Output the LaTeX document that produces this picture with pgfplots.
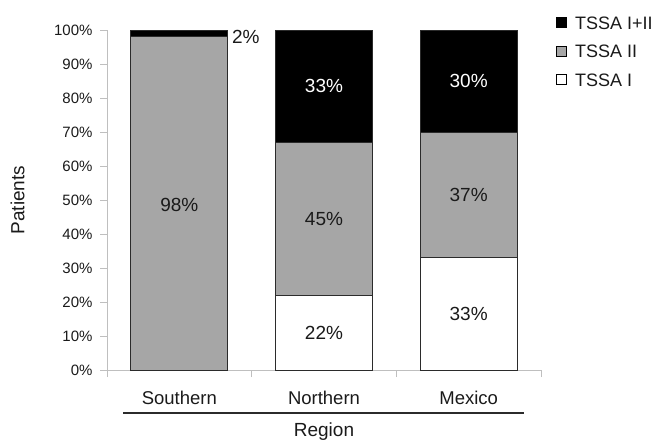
\documentclass[border=0pt]{standalone}
\usepackage{fontspec}
\setmainfont{Liberation Sans}
\usepackage{pgfplots}
\pgfplotsset{compat=1.18}
\definecolor{barg}{HTML}{A6A6A6}
\definecolor{axg}{HTML}{BFBFBF}
\definecolor{edgec}{HTML}{2B2B2B}
\definecolor{txtc}{HTML}{1A1A1A}
\begin{document}
\begin{tikzpicture}
\path[use as bounding box] (0pt,0pt) rectangle (652pt,440pt);
\begin{axis}[
    at={(107pt,70pt)}, anchor=south west,
    scale only axis, width=434pt, height=340pt,
    ybar stacked, bar width=97pt,
    xmin=-0.5, xmax=2.5, ymin=0, ymax=100,
    axis x line*=bottom, axis y line*=left,
    axis line style={axg, line width=1pt},
    tick align=outside, major tick length=7pt,
    tick style={axg, line width=1pt},
    xtick={-0.5,0.5,1.5,2.5}, xticklabels={},
    extra x ticks={0,1,2},
    extra x tick labels={Southern,Northern,Mexico},
    extra x tick style={major tick length=0pt,
        xticklabel style={font=\fontsize{18.5}{22}\selectfont, yshift=-18pt}},
    ytick={0,10,...,100},
    yticklabel={\pgfmathprintnumber{\tick}\%},
    /pgf/number format/assume math mode=true,
    tick label style={font=\fontsize{15}{18}\selectfont, text=txtc},
    yticklabel style={xshift=-4pt},
    xlabel={Region},
    xlabel style={at={(axis description cs:0.5,-0.197)}, anchor=base,
        font=\fontsize{19}{22}\selectfont, text=txtc},
    ylabel={Patients},
    ylabel style={at={(axis description cs:-0.206,0.5)}, anchor=center,
        font=\fontsize{19}{22}\selectfont, text=txtc},
    every axis plot/.append style={draw=edgec, line width=1pt},
    reverse legend,
    legend style={at={(1.0346,1.047)}, anchor=north west, draw=none, fill=none,
        font=\fontsize{18}{20}\selectfont, text=txtc,
        row sep=11.5pt, inner sep=0pt,
        /tikz/every odd column/.append style={column sep=6pt},
        nodes={inner sep=2pt, text height=13pt, text depth=0pt}},
    legend cell align=left,
    legend image code/.code={\draw[#1,/tikz/.cd,draw=black,line width=0.8pt] (0pt,-5pt) rectangle (10pt,5pt);},
]
\addplot[fill=white] coordinates {(0,0) (1,22) (2,33)};
\addplot[fill=barg] coordinates {(0,98) (1,45) (2,37)};
\addplot[fill=black] coordinates {(0,2) (1,33) (2,30)};
\legend{TSSA I, TSSA II, TSSA I+II}
\coordinate (sII) at (axis cs:0,48.5);
\coordinate (sB) at (axis cs:0.46,98);
\coordinate (nB) at (axis cs:1,83.5);
\coordinate (nII) at (axis cs:1,44.5);
\coordinate (nI) at (axis cs:1,11);
\coordinate (mB) at (axis cs:2,85);
\coordinate (mII) at (axis cs:2,51.5);
\coordinate (mI) at (axis cs:2,16.5);
\end{axis}
\begin{scope}[every node/.style={font=\fontsize{19}{22}\selectfont, text=txtc}]
\node at (sII) {98\%};
\node at (sB) {2\%};
\node[text=white] at (nB) {33\%};
\node at (nII) {45\%};
\node at (nI) {22\%};
\node[text=white] at (mB) {30\%};
\node at (mII) {37\%};
\node at (mI) {33\%};
\end{scope}
\draw[edgec, line width=1.3pt] (123pt,27pt) -- (524pt,27pt);
\end{tikzpicture}
\end{document}
